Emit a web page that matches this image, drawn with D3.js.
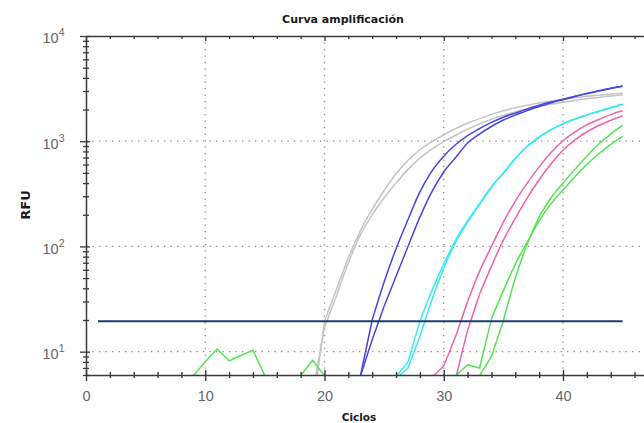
<!DOCTYPE html>
<html>
<head>
<meta charset="utf-8">
<script src="https://cdn.jsdelivr.net/npm/d3@7"></script>
<style>
  body { margin: 0; background: #fff; }
  svg { display: block; }
</style>
</head>
<body>
<svg id="chart" width="644" height="423"></svg>
<script>
// ---- data ----
const cycleLabels = [0, 10, 20, 30, 40];
const decadeTicks = [10, 100, 1000, 10000];
const thresholdRFU = 19.5;
const thresholdCycles = [1, 45];

const seriesNames  = ["Gris 1", "Gris 2", "Azul 1", "Azul 2", "Cian 1", "Cian 2", "Rosa 1", "Rosa 2", "Verde 1", "Verde 2"];
const seriesColors = ["#c4c4c4", "#c4c4c4", "#4646e6", "#4646e6", "#3ae8f2", "#3ae8f2", "#f062ac", "#f062ac", "#52e552", "#52e552"];
const seriesStart  = [18, 19, 22, 22, 25, 25, 28, 30, 8, 32];

const gris1  = [1.5, 2.7, 19.5, 39, 78, 140, 225, 340, 490, 660, 830, 990, 1150, 1320, 1480, 1640, 1800, 1950, 2080, 2200, 2310, 2410, 2500, 2590, 2670, 2740, 2800, 2860];
const gris2  = [4, 17, 34, 70, 128, 200, 290, 400, 540, 690, 840, 990, 1140, 1300, 1460, 1620, 1760, 1900, 2020, 2130, 2240, 2340, 2440, 2530, 2610, 2690, 2760];
const azul1  = [2, 5.8, 20, 46, 95, 180, 330, 520, 720, 930, 1130, 1320, 1510, 1690, 1850, 2030, 2200, 2360, 2510, 2680, 2850, 3020, 3190, 3350];
const azul2  = [2, 5.8, 13, 27, 52, 100, 190, 330, 510, 700, 960, 1170, 1380, 1590, 1770, 1960, 2140, 2310, 2480, 2660, 2830, 3000, 3170, 3340];
const cian1  = [2, 5.8, 8.0, 19.5, 38, 68, 115, 175, 255, 370, 500, 690, 900, 1100, 1290, 1470, 1630, 1780, 1930, 2090, 2250];
const cian2  = [2, 5.5, 7.0, 14, 31, 62, 110, 170, 250, 365, 495, 680, 890, 1090, 1280, 1460, 1620, 1770, 1920, 2080, 2240];
const rosa1  = [2, 5.7, 7.3, 14, 30, 58, 100, 170, 270, 400, 570, 780, 1010, 1230, 1430, 1610, 1790, 1945];
const rosa2  = [2.5, 5.6, 16, 35, 65, 115, 185, 290, 430, 610, 820, 1030, 1230, 1410, 1580, 1745];
const verde1 = [3, 5.9, 8.0, 10.6, 8.2, 9.2, 10.3, 5.9, 3, 3, 5.9, 8.3, 5.9, 3, 3, 3, 3, 3, 3, 3, 3, 3, 3, 5.9, 7.5, 7.0, 20.5, 38, 68, 110, 175, 255, 345, 460, 600, 760, 930, 1110];
const verde2 = [3, 5.9, 9, 19.7, 50, 105, 190, 290, 400, 540, 720, 940, 1170, 1420];

const seriesValues = [gris1, gris2, azul1, azul2, cian1, cian2, rosa1, rosa2, verde1, verde2];

// ---- layout ----
const plotLeft = 86, plotTop = 36, plotBottom = 375;
const pxPerCycle = 11.925;
const xMax = 47;

const svg = d3.select("#chart");

const x = d3.scaleLinear().domain([0, xMax]).range([plotLeft, plotLeft + xMax * pxPerCycle]);
const y = d3.scaleLog().domain([6, 10000]).range([plotBottom, plotTop]);
const plotRight = x.range()[1];

// dotted grid
const grid = svg.append("g").attr("stroke", "#8a8a8a").attr("stroke-width", 1.3)
  .attr("stroke-dasharray", "1.3 5.2");
grid.selectAll("line.v").data(cycleLabels.filter(d => d > 0)).join("line").attr("class", "v")
  .attr("x1", d => x(d)).attr("x2", d => x(d)).attr("y1", plotTop).attr("y2", plotBottom);
grid.selectAll("line.h").data(decadeTicks.filter(d => d < 10000)).join("line").attr("class", "h")
  .attr("x1", plotLeft).attr("x2", plotRight).attr("y1", d => y(d)).attr("y2", d => y(d));

// curves: straight segments through the noisy baseline, smooth once amplification takes off
svg.append("clipPath").attr("id", "plot-clip")
  .append("rect").attr("x", plotLeft).attr("y", plotTop)
  .attr("width", plotRight - plotLeft).attr("height", plotBottom - plotTop);

const linearLine = d3.line().x(d => x(d.c)).y(d => y(d.v));
const smoothLine = d3.line().curve(d3.curveMonotoneX).x(d => x(d.c)).y(d => y(d.v));
const curves = svg.append("g").attr("clip-path", "url(#plot-clip)").attr("fill", "none")
  .attr("stroke-width", 1.5).attr("stroke-linejoin", "round");

seriesValues.forEach((vals, i) => {
  const pts = vals.map((v, k) => ({ c: seriesStart[i] + k, v }));
  const k = pts.findIndex((p, j) => j > 0 && p.v >= 19 && pts[j - 1].v < p.v && pts.slice(j).every((q, m, a) => m === 0 || q.v >= a[m - 1].v));
  const g = curves.append("g").attr("stroke", seriesColors[i]);
  g.append("title").text(seriesNames[i]);
  g.append("path").datum(pts.slice(0, k + 1)).attr("d", linearLine);
  g.append("path").datum(pts.slice(k)).attr("d", smoothLine);
});

// threshold
svg.append("line")
  .attr("x1", x(thresholdCycles[0])).attr("x2", x(thresholdCycles[1]))
  .attr("y1", y(thresholdRFU)).attr("y2", y(thresholdRFU))
  .attr("stroke", "#1c3d6e").attr("stroke-width", 2);

// axes
const axisColor = "#3a3a3a";
const evenCycles = d3.range(0, xMax, 2);

const xAxis = svg.append("g").attr("transform", `translate(0,${plotBottom})`)
  .call(d3.axisBottom(x).tickValues(evenCycles).tickSize(0).tickSizeOuter(0)
    .tickFormat(d => d % 10 === 0 ? d : ""));
xAxis.select(".domain").attr("stroke", axisColor).attr("stroke-width", 1.5);
xAxis.selectAll(".tick line").attr("stroke", axisColor).attr("stroke-width", 1.4)
  .attr("y1", d => d % 10 === 0 ? -5 : -3).attr("y2", d => d % 10 === 0 ? 6 : 3);
xAxis.selectAll(".tick text").attr("y", 26).attr("dy", 0)
  .attr("fill", "#666").attr("font-family", "Liberation Sans, Arial, sans-serif").attr("font-size", 14.5);

const xTop = svg.append("g").attr("transform", `translate(0,${plotTop})`)
  .call(d3.axisTop(x).tickValues(evenCycles).tickSize(0).tickSizeOuter(0).tickFormat(""));
xTop.select(".domain").attr("stroke", axisColor).attr("stroke-width", 1.5);
xTop.selectAll(".tick line").attr("stroke", axisColor).attr("stroke-width", 1.3)
  .attr("y1", 0).attr("y2", d => d % 10 === 0 ? 5 : 3);

const logTicks = [];
[1, 10, 100, 1000].forEach(base => {
  for (let m = 1; m <= 9; m++) {
    const v = base * m;
    if (v >= 6 && v <= 10000) logTicks.push(v);
  }
});
logTicks.push(10000);
const isDecade = v => decadeTicks.includes(v);

const yAxis = svg.append("g").attr("transform", `translate(${plotLeft},0)`)
  .call(d3.axisLeft(y).tickValues(logTicks).tickSize(0).tickSizeOuter(0).tickFormat(""));
yAxis.select(".domain").attr("stroke", axisColor).attr("stroke-width", 1.5);
yAxis.selectAll(".tick line").attr("stroke", axisColor).attr("stroke-width", 1.3)
  .attr("x1", d => isDecade(d) ? -6 : -3).attr("x2", d => isDecade(d) ? 4 : 3);

// decade labels as 10^n
const yLabels = svg.append("g")
  .attr("font-family", "Liberation Sans, Arial, sans-serif").attr("fill", "#666");
decadeTicks.forEach(v => {
  const t = yLabels.append("text")
    .attr("x", plotLeft - 21.5).attr("y", y(v) + 7.3).attr("text-anchor", "end")
    .attr("font-size", 14.5);
  t.append("tspan").text("10");
  t.append("tspan").attr("font-size", 10.5).attr("dy", -7).text(Math.round(Math.log10(v)));
});

// titles
const bold = "DejaVu Sans, Verdana, sans-serif";
svg.append("text").attr("x", 343).attr("y", 22.5).attr("text-anchor", "middle")
  .attr("font-family", bold).attr("font-weight", "bold").attr("font-size", 11)
  .attr("fill", "#1a1a1a").text("Curva amplificación");
svg.append("text").attr("x", 359).attr("y", 421).attr("text-anchor", "middle")
  .attr("font-family", bold).attr("font-weight", "bold").attr("font-size", 10.5)
  .attr("fill", "#1a1a1a").text("Ciclos");
svg.append("text").attr("transform", "translate(30,205) rotate(-90)").attr("text-anchor", "middle")
  .attr("font-family", bold).attr("font-weight", "bold").attr("font-size", 13)
  .attr("fill", "#1a1a1a").text("RFU");
</script>
</body>
</html>
